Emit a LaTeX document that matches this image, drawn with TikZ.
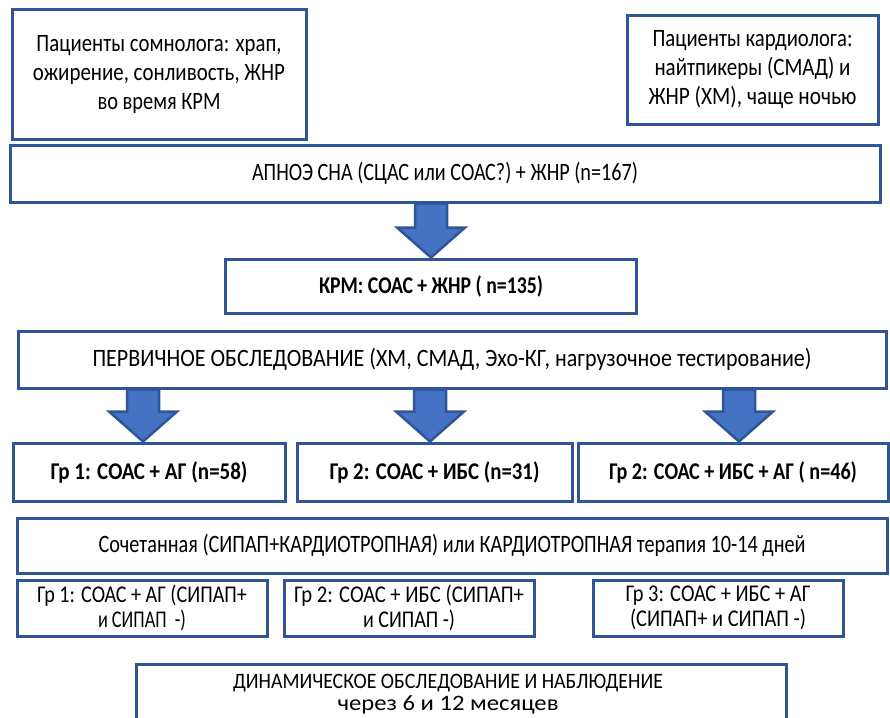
\documentclass[tikz,border=0pt]{standalone}
\usepackage{fontspec}
\setmainfont{Carlito}
\usepackage{graphicx}
\usetikzlibrary{calc}
\definecolor{bordc}{HTML}{2F5597}
\definecolor{arrfill}{HTML}{4472C4}
\definecolor{txtc}{HTML}{000000}
\newsavebox\fitbox
\newdimen\fitwd
\newcommand\fitto[2]{\sbox\fitbox{#2}\fitwd=\wd\fitbox\pgfmathsetmacro\fitr{#1/\fitwd}\scalebox{\fitr}[1]{\usebox\fitbox}}
\newcommand\blockarr[2]{\draw[blockarrow] let \p1=#1, \p2=#2 in
  (\x1-16pt,\y1) -- (\x1-16pt,\y2+30pt) -- (\x1-34pt,\y2+30pt) -- (\x1,\y2) --
  (\x1+34pt,\y2+30pt) -- (\x1+16pt,\y2+30pt) -- (\x1+16pt,\y1) -- cycle;}
\tikzset{
  box/.style={draw=bordc, line width=3pt, fill=white, inner sep=0pt, align=center,
    text=txtc, font=\fontsize{25}{25}\selectfont},
  bigtxt/.style={font=\fontsize{25}{29}\selectfont},
  boldtxt/.style={font=\fontsize{24}{26}\selectfont\bfseries},
  twoline/.style={font=\fontsize{24}{25}\selectfont},
  blockarrow/.style={draw=bordc, line width=2.5pt, fill=arrfill, line join=miter},
}
\begin{document}
\begin{tikzpicture}[x=1pt,y=-1pt]
\useasboundingbox (0,0) rectangle (890,717);
\clip (0,0) rectangle (890,717);
\node[box, bigtxt, minimum width=294pt, minimum height=129pt] (son) at (159,74.5)
  {\fitto{245}{Пациенты сомнолога: храп,}\\\fitto{252}{ожирение, сонливость, ЖНР}\\\fitto{123}{во время КРМ}};
\node[box, bigtxt, minimum width=251pt, minimum height=108pt] (kard) at (752.5,70)
  {\fitto{200}{Пациенты кардиолога:}\\\fitto{196}{найтпикеры (СМАД) и}\\\fitto{208}{ЖНР (ХМ), чаще ночью}};
\node[box, minimum width=870pt, minimum height=57pt] (apnoe) at (445,173.5)
  {\fitto{386}{АПНОЭ СНА (СЦАС или СОАС?) + ЖНР (n=167)}};
\node[box, boldtxt, minimum width=411pt, minimum height=54pt] (krm) at (431,286)
  {\fitto{224}{КРМ: СОАС + ЖНР ( n=135)}};
\node[box, minimum width=868pt, minimum height=57pt] (perv) at (452,359.5)
  {\fitto{719}{ПЕРВИЧНОЕ ОБСЛЕДОВАНИЕ (ХМ, СМАД, Эхо-КГ, нагрузочное тестирование)}};
\node[box, boldtxt, minimum width=272pt, minimum height=58pt] (g1) at (149,472)
  {\fitto{197}{Гр 1: СОАС + АГ (n=58)}};
\node[box, boldtxt, minimum width=275pt, minimum height=58pt] (g2) at (434.5,472)
  {\fitto{210}{Гр 2: СОАС + ИБС (n=31)}};
\node[box, boldtxt, minimum width=310pt, minimum height=58pt] (g3) at (733,472)
  {\fitto{248}{Гр 2: СОАС + ИБС + АГ ( n=46)}};
\node[box, minimum width=870pt, minimum height=55pt] (soch) at (452,545.5)
  {\fitto{707}{Сочетанная (СИПАП+КАРДИОТРОПНАЯ) или КАРДИОТРОПНАЯ терапия 10-14 дней}};
\node[box, twoline, minimum width=250pt, minimum height=56pt] (s1) at (142,608)
  {\fitto{210}{Гр 1: СОАС + АГ (СИПАП+}\\\fitto{88}{и СИПАП\ \ -)}};
\node[box, twoline, minimum width=250pt, minimum height=56pt] (s2) at (409,608)
  {\fitto{230}{Гр 2: СОАС + ИБС (СИПАП+}\\\fitto{92}{и СИПАП -)}};
\node[box, twoline, minimum width=250pt, minimum height=56pt] (s3) at (718,608)
  {\fitto{185}{Гр 3: СОАС + ИБС + АГ}\\\fitto{176}{(СИПАП+ и СИПАП -)}};
\node[box, minimum width=650pt, minimum height=90pt, anchor=north, text height=0pt] (din) at (461,663) {};
\node[text=txtc, font=\fontsize{22}{22}\selectfont, align=center] (dintxt) at (448,694)
  {\fitto{430}{ДИНАМИЧЕСКОЕ ОБСЛЕДОВАНИЕ И НАБЛЮДЕНИЕ}\\\fitto{221}{через 6 и 12 месяцев}};
\blockarr{(apnoe.south -| krm.north)}{(krm.north)}
\blockarr{($(perv.south -| g1.north)+(-6,0)$)}{($(g1.north)+(-6,0)$)}
\blockarr{($(perv.south -| g2.north)+(-4.5,0)$)}{($(g2.north)+(-4.5,0)$)}
\blockarr{($(perv.south -| g3.north)+(6,0)$)}{($(g3.north)+(6,0)$)}
\end{tikzpicture}
\end{document}
